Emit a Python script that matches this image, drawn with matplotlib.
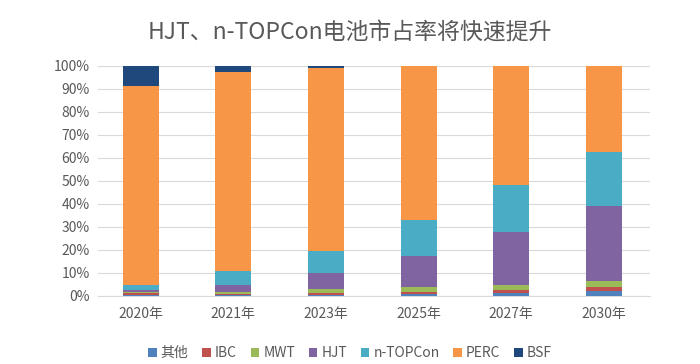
import numpy as np
import matplotlib
matplotlib.use("Agg")
import matplotlib.pyplot as plt
from matplotlib.ticker import PercentFormatter

plt.rcParams['font.family'] = ['Noto Sans CJK SC', 'DejaVu Sans']

years = ['2020年', '2021年', '2023年', '2025年', '2027年', '2030年']
series = ['其他', 'IBC', 'MWT', 'HJT', 'n-TOPCon', 'PERC', 'BSF']

# shares in %, bottom to top
other = [0.5, 0.5, 0.6, 0.7, 1.2, 2.3]
ibc = [0.7, 0.5, 0.8, 1.2, 1.3, 1.4]
mwt = [0.3, 0.9, 1.4, 1.9, 2.3, 2.7]
hjt = [1.0, 2.9, 7.0, 13.5, 23.2, 32.5]
topcon = [2.3, 6.2, 9.8, 15.5, 20.3, 23.8]
perc = [86.5, 86.5, 79.4, 67.2, 51.7, 37.3]
bsf = [8.7, 2.5, 1.0, 0.0, 0.0, 0.0]

colors = ['#4F81BD', '#C0504D', '#9BBB59', '#8064A2', '#4BACC6', '#F79646', '#1F497D']

fig = plt.figure(figsize=(7, 3.64), dpi=100)
ax = fig.add_axes([0.14, 0.187, 0.789, 0.632])

x = np.arange(len(years))
bottom = np.zeros(len(years))
for name, vals, c in zip(series, [other, ibc, mwt, hjt, topcon, perc, bsf], colors):
    ax.bar(x, vals, 0.39, bottom=bottom, color=c, label=name, zorder=3)
    bottom += np.array(vals)

ax.set_ylim(0, 100)
ax.set_xlim(-0.46, 5.5)
ax.set_yticks(np.arange(0, 101, 10))
ax.yaxis.set_major_formatter(PercentFormatter(decimals=0))
ax.set_xticks(x)
ax.set_xticklabels(years)
ax.grid(axis='y', color='#d9d9d9', linewidth=0.8, zorder=0)
for s in ax.spines.values():
    s.set_visible(False)
ax.spines['bottom'].set_visible(True)
ax.spines['bottom'].set_color('#d9d9d9')
ax.tick_params(axis='both', length=0, colors='#595959', labelsize=10)
ax.tick_params(axis='x', pad=8)
ax.tick_params(axis='y', pad=6)

fig.text(0.5, 0.912, 'HJT、n-TOPCon电池市占率将快速提升', ha='center', va='center',
         fontsize=16.5, color='#595959')

fig.legend(loc='center', bbox_to_anchor=(0.5, 0.03), ncol=7, frameon=False,
           fontsize=10, handlelength=0.6, handleheight=0.6, handletextpad=0.3,
           columnspacing=1.0, labelcolor='#595959')

fig.savefig('out.png', dpi=100)
